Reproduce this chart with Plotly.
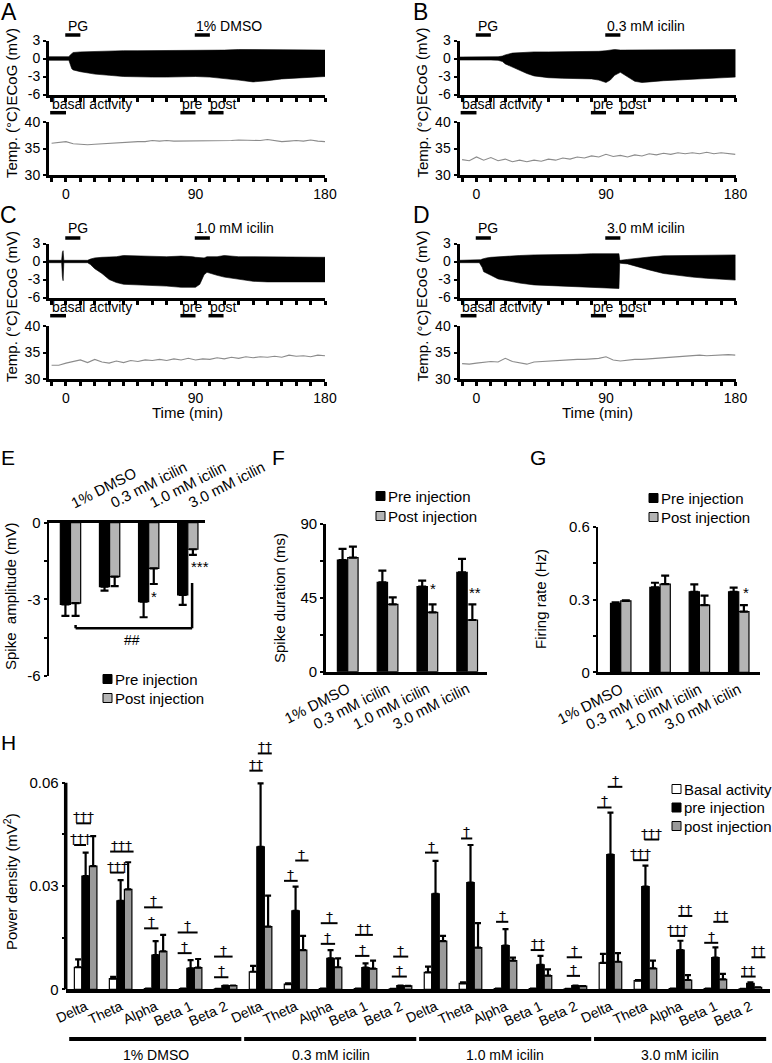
import plotly.graph_objects as go

W, H = 772, 1063
FONT = "Liberation Sans, Arial, sans-serif"
DAGGER_FONT = "DejaVu Sans, Liberation Sans, sans-serif"
POST_GREY = "#b4b4b4"
POST_GREY_H = "#9a9a9a"
TEMP_COL = "#8c8c8c"

# ====================== DATA ======================
# --- ECoG traces: upper / lower edge of the dense trace (mV) vs time (min)
envA_t = [-11.8, 2, 3, 4, 5, 10, 20, 30, 40, 50, 60, 70, 80, 90, 100, 110, 120, 130, 140, 150, 160, 170, 180]
envA_up = [0.3, 0.3, 0.6, 0.9, 1.0, 1.1, 1.2, 1.3, 1.3, 1.3, 1.3, 1.3, 1.4, 1.4, 1.4, 1.4, 1.5, 1.5, 1.5, 1.4, 1.4, 1.4, 1.4]
envA_lo = [-0.3, -0.3, -1.0, -1.7, -1.9, -2.2, -2.6, -2.8, -3.0, -3.1, -3.1, -3.1, -3.1, -3.0, -3.1, -3.3, -3.6, -3.9, -3.7, -3.4, -3.2, -3.1, -3.0]

envB_t = [-11.8, 10, 15, 18, 20, 25, 30, 35, 40, 50, 60, 70, 80, 85, 90, 93, 96, 100, 105, 110, 115, 120, 130, 140, 150, 160, 170, 180]
envB_up = [0.25, 0.25, 0.3, 0.4, 0.6, 0.9, 1.0, 1.1, 1.1, 1.1, 1.1, 1.1, 1.2, 1.2, 1.3, 1.4, 1.5, 1.4, 1.4, 1.4, 1.4, 1.4, 1.4, 1.5, 1.4, 1.4, 1.5, 1.5]
envB_lo = [-0.25, -0.25, -0.3, -0.5, -0.9, -1.5, -2.0, -2.5, -2.9, -3.2, -3.3, -3.4, -3.4, -3.6, -4.0, -3.6, -2.8, -2.3, -3.0, -3.8, -4.0, -3.9, -3.7, -3.5, -3.4, -3.3, -3.2, -3.1]

envC_t = [-11.8, -3, -2.5, -2, -1.5, 15, 17, 20, 25, 30, 35, 40, 50, 60, 70, 80, 85, 88, 90, 93, 96, 98, 100, 105, 110, 120, 130, 140, 150, 160, 170, 180]
envC_up = [0.2, 0.2, 1.5, 1.8, 0.2, 0.2, 0.4, 0.6, 0.7, 0.7, 0.8, 1.0, 0.9, 0.8, 0.8, 0.9, 0.9, 0.8, 0.7, 0.6, 0.6, 0.8, 0.8, 0.8, 1.0, 0.8, 0.8, 0.8, 0.7, 0.7, 0.7, 0.7]
envC_lo = [-0.2, -0.2, -2.5, -3.2, -0.2, -0.2, -0.5, -1.2, -2.0, -3.0, -3.5, -3.8, -3.9, -4.0, -4.1, -4.3, -4.4, -4.3, -4.3, -3.8, -2.2, -1.8, -1.9, -2.3, -2.6, -3.0, -3.3, -3.4, -3.5, -3.5, -3.4, -3.4]

envD_t = [-11.8, 2, 3, 4, 5, 7, 10, 15, 20, 30, 40, 50, 60, 70, 80, 90, 99, 99.5, 100, 105, 110, 120, 130, 140, 150, 160, 170, 180]
envD_up = [0.2, 0.2, 0.3, 0.4, 0.5, 0.6, 0.7, 0.8, 0.9, 1.0, 1.1, 1.1, 1.2, 1.2, 1.3, 1.3, 1.3, 0.3, 0.2, 0.35, 0.5, 0.75, 0.95, 1.0, 1.05, 1.1, 1.1, 1.1]
envD_lo = [-0.2, -0.2, -0.5, -1.0, -1.7, -2.0, -2.3, -2.9, -3.2, -3.6, -3.9, -4.0, -4.1, -4.2, -4.3, -4.4, -4.5, -0.3, -0.3, -0.4, -0.8, -1.4, -2.0, -2.3, -2.6, -2.8, -3.0, -3.1]

# --- Temperature (deg C) vs time (min)
temp_t = [-10, -5, 0, 5, 10, 15, 20, 25, 30, 35, 40, 45, 50, 55, 60, 65, 70, 75, 80, 85,
          90, 95, 100, 105, 110, 115, 120, 125, 130, 135, 140, 145, 150, 155, 160, 165, 170, 175, 180]
tempA = [36.0, 36.1, 36.3, 35.9, 35.8, 35.7, 35.8, 35.9, 35.9, 36.0, 36.1, 36.2, 36.3, 36.3, 36.5, 36.4, 36.5, 36.4, 36.4, 36.5,
         36.4, 36.5, 36.5, 36.4, 36.5, 36.5, 36.6, 36.6, 36.5, 36.5, 36.7, 36.5, 36.3, 36.4, 36.5, 36.4, 36.6, 36.4, 36.3]
tempB = [32.9, 32.7, 33.4, 32.8, 33.3, 32.7, 33.0, 32.5, 32.8, 32.5, 32.8, 32.6, 33.0, 32.8, 33.2, 33.0, 33.4, 33.2, 33.6, 33.4,
         33.9, 33.5, 33.7, 33.4, 33.8, 33.6, 34.0, 33.8, 34.1, 33.9, 34.2, 34.0, 34.2, 34.0, 34.3, 34.0, 34.2, 34.0, 33.9]
tempC = [32.6, 32.6, 33.0, 33.3, 33.6, 33.1, 33.7, 33.2, 33.0, 33.4, 33.1, 33.5, 33.3, 33.6, 33.5, 33.7, 33.5, 33.8, 33.6, 33.9,
         33.6, 33.8, 33.7, 34.0, 33.8, 34.1, 33.9, 34.2, 34.0, 34.2, 34.1, 34.3, 34.1, 34.5, 34.3, 34.4, 34.2, 34.5, 34.4]
tempD = [32.9, 32.8, 33.0, 33.2, 33.3, 33.2, 33.9, 33.3, 33.0, 32.8, 33.2, 33.3, 33.4, 33.5, 33.6, 33.6, 33.7, 33.7, 33.8, 33.9,
         34.2, 33.6, 33.4, 33.6, 33.7, 33.7, 33.8, 33.9, 34.1, 34.1, 34.2, 34.3, 34.4, 34.5, 34.4, 34.5, 34.5, 34.6, 34.5]

time_tick_labels = {0: "0", 90: "90", 180: "180"}
ecog_ticks = [-6, -3, 0, 3]
ecog_ticktext = ["-6", "-3", "0", "3"]
temp_ticks = [30, 35, 40]
temp_ticktext = ["30", "35", "40"]
drugs = ["1% DMSO", "0.3 mM icilin", "1.0 mM icilin", "3.0 mM icilin"]

# --- E / F / G summary bars
conditions = ["1% DMSO", "0.3 mM icilin", "1.0 mM icilin", "3.0 mM icilin"]
E_pre = [-3.2, -2.5, -3.09, -2.83]
E_pre_err = [0.45, 0.16, 0.61, 0.39]
E_post = [-3.15, -2.11, -1.79, -1.04]
E_post_err = [0.5, 0.37, 0.61, 0.22]
E_ticks = [-6, -4.5, -3, -1.5, 0]
E_ticktext = ["-6", "", "-3", "", "0"]

F_pre = [68.0, 54.5, 51.8, 60.6]
F_pre_err = [6.8, 7.1, 3.7, 8.1]
F_post = [69.5, 41.0, 36.2, 31.5]
F_post_err = [6.7, 4.3, 4.8, 9.5]
F_ticks = [0, 22.5, 45, 67.5, 90]
F_ticktext = ["0", "", "45", "", "90"]

G_pre = [0.284, 0.350, 0.332, 0.332]
G_pre_err = [0.004, 0.019, 0.030, 0.017]
G_post = [0.294, 0.363, 0.277, 0.250]
G_post_err = [0.003, 0.035, 0.039, 0.027]
G_ticks = [0, 0.15, 0.3, 0.45, 0.6]
G_ticktext = ["0", "", "0.3", "", "0.6"]

# --- H power density
bands = ["Delta", "Theta", "Alpha", "Beta 1", "Beta 2"] * 4
H_basal = [0.0064, 0.0031, 0.0002, 0.0002, 0.0001, 0.0051, 0.0015, 0.0002, 0.0002, 0.0001,
           0.0049, 0.0017, 0.0002, 0.0002, 0.0001, 0.0077, 0.0025, 0.0002, 0.0002, 0.0001]
H_basal_err = [0.0023, 0.0005, 0, 0, 0, 0.0017, 0.0002, 0, 0, 0,
               0.0017, 0.0003, 0, 0, 0, 0.0026, 0.0002, 0, 0, 0]
H_pre = [0.0329, 0.0257, 0.0099, 0.0061, 0.0011, 0.0414, 0.0228, 0.0090, 0.0063, 0.0011,
         0.0277, 0.0310, 0.0127, 0.0071, 0.0011, 0.0391, 0.0298, 0.0114, 0.0092, 0.0017]
H_pre_err = [0.0068, 0.0060, 0.0041, 0.0024, 0.0, 0.0184, 0.0070, 0.0024, 0.0012, 0.0,
             0.0096, 0.0109, 0.0048, 0.0026, 0.0, 0.0122, 0.0061, 0.0027, 0.0030, 0.0003]
H_post = [0.0358, 0.0290, 0.0110, 0.0063, 0.0011, 0.0182, 0.0114, 0.0064, 0.0060, 0.0010,
          0.0140, 0.0121, 0.0083, 0.0040, 0.0009, 0.0080, 0.0061, 0.0027, 0.0029, 0.0006]
H_post_err = [0.0087, 0.0079, 0.0048, 0.0025, 0.0, 0.0090, 0.0041, 0.0026, 0.0023, 0.0,
              0.0015, 0.0071, 0.0009, 0.0018, 0.0, 0.0025, 0.0022, 0.0014, 0.0016, 0.0]
H_ticks = [0, 0.015, 0.03, 0.045, 0.06]
H_ticktext = ["0", "", "0.03", "", "0.06"]

# significance marks in H: (x start, x end in band index units, y level, label)
H_sig = [
    (-0.33, 0.01, 0.0419, "†††"), (-0.27, 0.15, 0.0482, "†††"),
    (0.70, 1.10, 0.0339, "†††"), (0.70, 1.37, 0.0400, "†††"),
    (1.67, 2.08, 0.0177, "†"), (1.67, 2.20, 0.0238, "†"),
    (2.63, 3.03, 0.0105, "†"), (2.63, 3.20, 0.0165, "†"),
    (3.67, 4.08, 0.0035, "†"), (3.67, 4.20, 0.0095, "†"),
    (4.68, 5.06, 0.0635, "††"), (4.92, 5.32, 0.0685, "††"),
    (5.67, 6.06, 0.0315, "†"), (5.99, 6.37, 0.0374, "†"),
    (6.72, 7.13, 0.0132, "†"), (6.72, 7.20, 0.0192, "†"),
    (7.70, 8.11, 0.0097, "†"), (7.70, 8.21, 0.0158, "††"),
    (8.75, 9.18, 0.0037, "†"), (8.79, 9.22, 0.0095, "†"),
    (9.70, 10.08, 0.0397, "†"),
    (10.73, 11.05, 0.0438, "†"),
    (11.73, 12.08, 0.0196, "†"),
    (12.72, 13.11, 0.0114, "††"),
    (13.75, 14.13, 0.0039, "†"), (13.75, 14.19, 0.0093, "†"),
    (14.62, 15.03, 0.0528, "†"), (14.92, 15.34, 0.0588, "†"),
    (15.65, 16.08, 0.0375, "†††"), (15.97, 16.39, 0.0435, "†††"),
    (16.70, 17.13, 0.0155, "†††"), (16.94, 17.34, 0.0213, "††"),
    (17.68, 18.08, 0.0135, "†"), (17.94, 18.37, 0.0196, "††"),
    (18.73, 19.15, 0.0037, "††"), (19.03, 19.43, 0.0093, "††"),
]

# ====================== FIGURE ======================
fig = go.Figure()
layout = {}
annotations = []
shapes = []


def px_x(px):
    return px / W


def px_y(py):
    return 1 - py / H


def ax(kind, n):
    return f"{kind}axis" if n == 1 else f"{kind}axis{n}"


def ref(kind, n):
    return kind if n == 1 else f"{kind}{n}"


def text(x, y, s, size=14, xref="paper", yref="paper", xanchor="center", yanchor="middle", angle=0,
         family=FONT, **kw):
    annotations.append(dict(x=x, y=y, xref=xref, yref=yref, text=s, showarrow=False,
                            xanchor=xanchor, yanchor=yanchor, textangle=angle,
                            font=dict(size=size, color="black", family=family), **kw))


def hline(x0, x1, y, xref="paper", yref="paper", width=3.5):
    shapes.append(dict(type="line", x0=x0, x1=x1, y0=y, y1=y, xref=xref, yref=yref,
                       line=dict(color="black", width=width)))


# ---------- time panels A-D ----------
T_RANGE = [-11.8, 180]
AX_W = 276
time_ticks = list(range(-10, 181, 10))

panels = [
    dict(L="A", ne=1, nt=2, x0=49, ecog=(40.5, 94.5), temp=(122, 175), t=envA_t, up=envA_up, lo=envA_lo,
         tv=tempA, drug=drugs[0], lpos=(9, 12), ttl=False),
    dict(L="B", ne=3, nt=4, x0=459.5, ecog=(40.5, 94.5), temp=(122, 175), t=envB_t, up=envB_up, lo=envB_lo,
         tv=tempB, drug=drugs[1], lpos=(420, 12), ttl=False),
    dict(L="C", ne=5, nt=6, x0=49, ecog=(243.5, 297.5), temp=(326, 379), t=envC_t, up=envC_up, lo=envC_lo,
         tv=tempC, drug=drugs[2], lpos=(8, 215), ttl=True),
    dict(L="D", ne=7, nt=8, x0=459.5, ecog=(243.5, 297.5), temp=(326, 379), t=envD_t, up=envD_up, lo=envD_lo,
         tv=tempD, drug=drugs[3], lpos=(421, 215), ttl=True),
]


def tfrac(t):
    return (t - T_RANGE[0]) / (T_RANGE[1] - T_RANGE[0])


for p in panels:
    ne, nt = p["ne"], p["nt"]
    xdom = [px_x(p["x0"]), px_x(p["x0"] + AX_W)]
    common_x = dict(domain=xdom, range=T_RANGE, showline=True, linewidth=3, linecolor="black",
                    ticks="outside", ticklen=4, tickwidth=3, tickcolor="black", tickvals=time_ticks,
                    showgrid=False, zeroline=False, fixedrange=True, tickfont=dict(size=14), automargin=False)
    layout[ax("x", ne)] = dict(common_x, anchor=ref("y", ne), ticktext=[""] * len(time_ticks))
    layout[ax("x", nt)] = dict(common_x, anchor=ref("y", nt),
                               ticktext=[time_tick_labels.get(v, "") for v in time_ticks])
    common_y = dict(showline=True, linewidth=3, linecolor="black", ticks="outside", ticklen=3, tickwidth=2,
                    tickcolor="black", showgrid=False, zeroline=False, fixedrange=True, tickfont=dict(size=14),
                    automargin=False)
    layout[ax("y", ne)] = dict(common_y, anchor=ref("x", ne), domain=[px_y(p["ecog"][1]), px_y(p["ecog"][0])],
                               range=[-6, 3], tickvals=ecog_ticks, ticktext=ecog_ticktext)
    layout[ax("y", nt)] = dict(common_y, anchor=ref("x", nt), domain=[px_y(p["temp"][1]), px_y(p["temp"][0])],
                               range=[30, 40], tickvals=temp_ticks, ticktext=temp_ticktext)

    # ECoG dense trace as filled envelope
    fig.add_trace(go.Scatter(x=p["t"] + p["t"][::-1], y=p["up"] + p["lo"][::-1], fill="toself",
                             fillcolor="black", mode="lines", line=dict(color="black", width=0.6),
                             xaxis=ref("x", ne), yaxis=ref("y", ne), hoverinfo="skip"))
    # temperature
    fig.add_trace(go.Scatter(x=temp_t, y=p["tv"], mode="lines", line=dict(color=TEMP_COL, width=1.1),
                             xaxis=ref("x", nt), yaxis=ref("y", nt), hoverinfo="skip"))

    eh = p["ecog"][1] - p["ecog"][0]
    xr, yr = ref("x", ne), ref("y", ne) + " domain"
    xrd = ref("x", ne) + " domain"
    top_txt = 1 + 15 / eh
    top_bar = 1 + 5.5 / eh
    bot_txt = -9.5 / eh
    bot_bar = -18.2 / eh
    text(-0.3, top_txt, "PG", xref=xr, yref=yr, xanchor="left")
    hline(tfrac(-0.5), tfrac(10), top_bar, xref=xrd, yref=yr)
    text(89, top_txt, p["drug"], xref=xr, yref=yr, xanchor="left")
    hline(tfrac(89.5), tfrac(100), top_bar, xref=xrd, yref=yr)
    text(-11.4, bot_txt, "basal activity", xref=xr, yref=yr, xanchor="left")
    hline(tfrac(-11), tfrac(0), bot_bar, xref=xrd, yref=yr)
    text(79.3, bot_txt, "pre", xref=xr, yref=yr, xanchor="left")
    hline(tfrac(79.5), tfrac(90), bot_bar, xref=xrd, yref=yr)
    text(98.5, bot_txt, "post", xref=xr, yref=yr, xanchor="left")
    hline(tfrac(99), tfrac(109.5), bot_bar, xref=xrd, yref=yr)

    # axis titles and letter
    tx = p["x0"] - 38
    text(px_x(tx), px_y(p["ecog"][0] + 26), "ECoG (mV)", size=15, angle=-90)
    text(px_x(tx), px_y(p["temp"][0] + 20), "Temp. (°C)", size=15, angle=-90)
    text(px_x(p["lpos"][0]), px_y(p["lpos"][1]), p["L"], size=23)
    if p["ttl"]:
        text(px_x(p["x0"] + AX_W / 2), px_y(p["temp"][1] + 33), "Time (min)", size=15)

# ---------- E / F / G ----------
xs4 = [0, 1, 2, 3]
BW = 0.26


def bar_pair(n, pre, pre_err, post, post_err, negative=False):
    for vals, errs, col, off in ((pre, pre_err, "black", -BW), (post, post_err, POST_GREY, 0.0)):
        zeros = [0] * len(errs)
        ey = dict(type="data", symmetric=False, array=zeros if negative else errs,
                  arrayminus=errs if negative else zeros, color="black", thickness=2.2, width=4)
        fig.add_trace(go.Bar(x=xs4, y=vals, width=BW, offset=off, marker=dict(color=col, line=dict(color="black", width=1.2)),
                             error_y=ey, xaxis=ref("x", n), yaxis=ref("y", n), hoverinfo="skip"))


def legend_box(x_sq, ys, items, size=15, sq=9):
    for (label, col), y in zip(items, ys):
        shapes.append(dict(type="rect", xref="paper", yref="paper", x0=px_x(x_sq), x1=px_x(x_sq + sq),
                           y0=px_y(y + sq / 2), y1=px_y(y - sq / 2), fillcolor=col,
                           line=dict(color="black", width=1)))
        text(px_x(x_sq + sq + 1), px_y(y), label, size=size, xanchor="left")


ybase = dict(showline=True, linewidth=2.5, linecolor="black", ticks="outside", ticklen=3, tickwidth=2,
             tickcolor="black", showgrid=False, zeroline=False, fixedrange=True, tickfont=dict(size=15),
             automargin=False)
xbase = dict(showline=True, linewidth=3, linecolor="black", ticks="", showgrid=False, zeroline=False,
             fixedrange=True, tickfont=dict(size=14), automargin=False)

# E
E_XR = [-0.55, 3.44]
layout["xaxis9"] = dict(xbase, domain=[px_x(49), px_x(205)], range=E_XR, anchor="y9", side="top",
                        showticklabels=False)
layout["yaxis9"] = dict(ybase, domain=[px_y(676), px_y(522.7)], range=[-6, 0], anchor="x9",
                        tickvals=E_ticks, ticktext=E_ticktext)
bar_pair(9, E_pre, E_pre_err, E_post, E_post_err, negative=True)
for i, c in enumerate(conditions):
    text(i - 0.12, 1 + 9 / 153.3, c, xref="x9", yref="y9 domain", xanchor="left", yanchor="bottom", angle=-27, size=15)
# bracket ## between post 1% DMSO and post 3.0 mM
for (x0, y0, x1, y1) in ((3.11, -2.36, 3.11, -4.13), (0.13, -4.13, 3.11, -4.13), (0.13, -4.0, 0.13, -4.13)):
    shapes.append(dict(type="line", xref="x9", yref="y9", x0=x0, y0=y0, x1=x1, y1=y1,
                       line=dict(color="black", width=2.5)))
text(1.58, -4.6, "##", xref="x9", yref="y9", size=14)
text(2.13, -2.9, "*", xref="x9", yref="y9", size=15)
text(3.32, -1.72, "***", xref="x9", yref="y9", size=15)
text(px_x(8), px_y(457), "E", size=21)
text(px_x(10), px_y(596), "Spike\u00a0 amplitude (mV)", size=15, angle=-90)
legend_box(103, [679, 698], [("Pre injection", "black"), ("Post injection", POST_GREY)])

# F
layout["xaxis10"] = dict(xbase, domain=[px_x(325.7), px_x(486.7)], range=[-0.553, 3.49], anchor="y10",
                         tickvals=xs4, ticktext=conditions, tickangle=-27, tickfont=dict(size=15))
layout["yaxis10"] = dict(ybase, domain=[px_y(671.7), px_y(524)], range=[0, 90], anchor="x10",
                         tickvals=F_ticks, ticktext=F_ticktext)
bar_pair(10, F_pre, F_pre_err, F_post, F_post_err)
text(2.14, 51, "*", xref="x10", yref="y10", size=15)
text(3.2, 48, "**", xref="x10", yref="y10", size=15)
text(px_x(278), px_y(457), "F", size=21)
text(px_x(279), px_y(598), "Spike duration (ms)", size=15, angle=-90)
legend_box(376, [496, 516], [("Pre injection", "black"), ("Post injection", POST_GREY)])

# G
layout["xaxis11"] = dict(xbase, domain=[px_x(598.3), px_x(760)], range=[-0.57, 3.54], anchor="y11",
                         tickvals=xs4, ticktext=conditions, tickangle=-27, tickfont=dict(size=15))
layout["yaxis11"] = dict(ybase, domain=[px_y(672.3), px_y(526.7)], range=[0, 0.6], anchor="x11",
                         tickvals=G_ticks, ticktext=G_ticktext)
bar_pair(11, G_pre, G_pre_err, G_post, G_post_err)
text(3.18, 0.327, "*", xref="x11", yref="y11", size=15)
text(px_x(538), px_y(457), "G", size=21)
text(px_x(540), px_y(599), "Firing rate (Hz)", size=15, angle=-90)
legend_box(649, [498, 517], [("Pre injection", "black"), ("Post injection", POST_GREY)])

# H
H_XR = [-0.57, 19.56]
H_YR = [0, 0.075]
band_x = list(range(len(bands)))
layout["xaxis12"] = dict(xbase, domain=[px_x(65.7), px_x(770)], range=H_XR, anchor="y12", linewidth=4,
                         tickvals=band_x, ticktext=bands, tickangle=-25, tickfont=dict(size=14))
hy_top = 989.3 - 0.075 * (989.3 - 782.7) / 0.06
layout["yaxis12"] = dict(ybase, domain=[px_y(989.3), px_y(hy_top)], range=H_YR, anchor="x12", showline=False,
                         tickvals=H_ticks, ticktext=H_ticktext)
HBW = 0.215
for vals, errs, col, off in ((H_basal, H_basal_err, "white", -1.5 * HBW), (H_pre, H_pre_err, "black", -0.5 * HBW),
                             (H_post, H_post_err, POST_GREY_H, 0.5 * HBW)):
    fig.add_trace(go.Bar(x=band_x, y=vals, width=HBW, offset=off,
                         marker=dict(color=col, line=dict(color="black", width=1.2)),
                         error_y=dict(type="data", symmetric=False, array=errs, arrayminus=[0] * len(errs),
                                      color="black", thickness=2.2, width=3),
                         xaxis="x12", yaxis="y12", hoverinfo="skip"))


def hx(v):
    return (v - H_XR[0]) / (H_XR[1] - H_XR[0])


def hyf(v):
    return (v - H_YR[0]) / (H_YR[1] - H_YR[0])


# y axis line only up to 0.06
shapes.append(dict(type="line", xref="x12 domain", yref="y12 domain", x0=0, x1=0, y0=0, y1=hyf(0.06),
                   line=dict(color="black", width=3.5)))
for (x0, x1, yv, lab) in H_sig:
    hline(hx(x0), hx(x1), hyf(yv), xref="x12 domain", yref="y12 domain", width=2)
    text(hx((x0 + x1) / 2), hyf(yv), lab, xref="x12 domain", yref="y12 domain", yanchor="bottom", size=14,
         yshift=-4, family=DAGGER_FONT)
# condition group bars under band labels
for g, c in enumerate(drugs):
    hline(hx(5 * g - 0.47), hx(5 * g + 4.45), px_y(1039), xref="x12 domain", yref="paper", width=4)
    text(hx(5 * g + 2), px_y(1055), c, xref="x12 domain", yref="paper", size=14)
text(px_x(8), px_y(742), "H", size=21)
text(px_x(10), px_y(882), "Power density (mV<sup>2</sup>)", size=15, angle=-90)
legend_box(672, [789, 807.5, 826], [("Basal activity", "white"), ("pre injection", "black"),
                                    ("post injection", POST_GREY_H)])

layout.update(dict(width=W, height=H, margin=dict(l=0, r=0, t=0, b=0, pad=0, autoexpand=False),
                   paper_bgcolor="white", plot_bgcolor="white", showlegend=False, barmode="overlay",
                   font=dict(family=FONT, size=14, color="black"),
                   annotations=annotations, shapes=shapes))
fig.update_layout(**layout)
fig.write_html("out.html", config={"displayModeBar": False, "staticPlot": True},
               post_script="document.body.style.margin='0';document.body.style.padding='0';"
                           "document.body.style.overflow='hidden';")
